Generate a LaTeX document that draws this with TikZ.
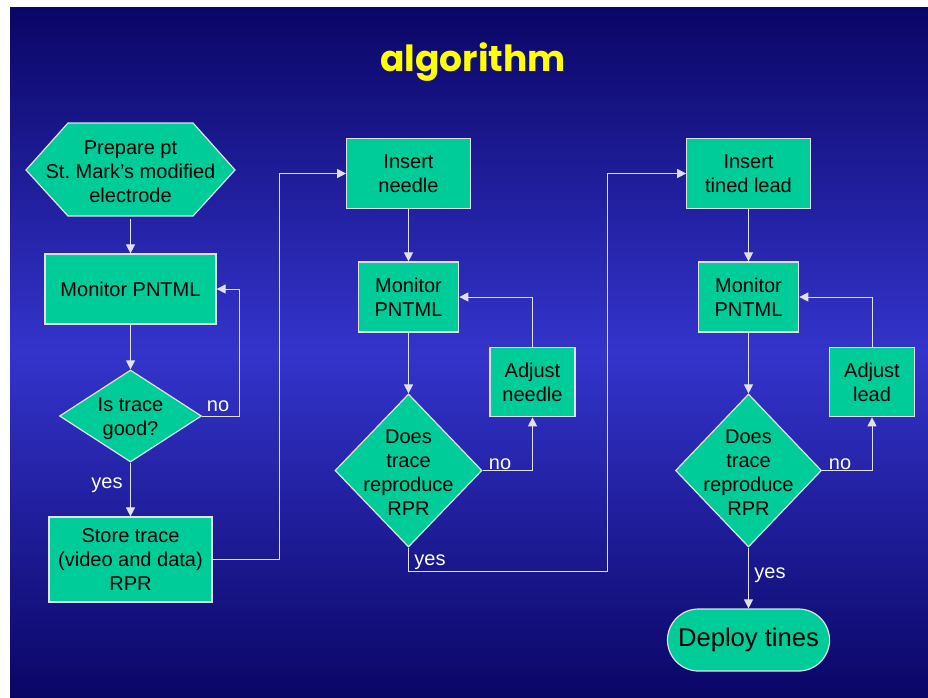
\documentclass[tikz,border=0pt]{standalone}
\usepackage{fontspec}
\setmainfont{Liberation Sans}
\newfontfamily\titlefont{Poppins}
\usetikzlibrary{arrows.meta,shapes.geometric}
\definecolor{boxfill}{RGB}{0,204,153}
\definecolor{bgdark}{RGB}{10,6,102}
\definecolor{bglight}{RGB}{52,52,204}
\definecolor{linec}{RGB}{225,225,235}
\definecolor{titley}{RGB}{255,255,0}
\begin{document}
\begin{tikzpicture}[x=1pt,y=-1pt,
  font=\fontsize{20}{24}\selectfont,
  box/.style={draw=linec, line width=1.2pt, fill=boxfill, text=black, align=center, inner sep=0pt},
  txt/.style={text=black, align=center, inner sep=0pt},
  lbl/.style={text=white, inner sep=0pt},
  arr/.style={draw=linec, line width=1pt, -{Triangle[length=9pt,width=9pt]}},
  ln/.style={draw=linec, line width=1pt}
]
\useasboundingbox (0,0) rectangle (928,697);
\fill[white] (0,0) rectangle (928,697);
\shade[top color=bgdark, bottom color=bgdark, middle color=bglight] (10,7) rectangle (928,697);

\node[text=titley, inner sep=0pt, font=\titlefont\bfseries\fontsize{36}{40}\selectfont] (title) at (473,62) {algorithm};

% left column
\fill[boxfill, draw=linec, line width=1.2pt] (26,170) -- (68,123) -- (193,123) -- (235,170) -- (193,216) -- (68,216) -- cycle;
\node[txt, minimum width=209, minimum height=93] (prep) at (130.5,172) {Prepare pt\\St.\ Mark’s modified\\electrode};
\node[box, minimum width=171, minimum height=70] (mon1) at (130.5,289) {Monitor PNTML};
\node[box, diamond, minimum width=142, minimum height=92] (good) at (130.5,416) {};
\node[txt] (goodt) at (130.5,419) {Is trace\\good?};
\node[box, minimum width=163, minimum height=85] (store) at (130.5,559.5) {Store trace\\(video and data)\\RPR};

% middle column
\node[box, minimum width=123.5, minimum height=70.5] (ins1) at (408.5,173.5) {Insert\\needle};
\node[box, minimum width=100.5, minimum height=70] (mon2) at (408.5,297) {Monitor\\PNTML};
\node[box, minimum width=85, minimum height=69.5] (adj1) at (532.5,382) {Adjust\\needle};
\node[box, diamond, minimum width=147, minimum height=153] (d2) at (408.5,470.5) {};
\node[txt] (d2t) at (408.5,473) {Does\\trace\\reproduce\\RPR};

% right column
\node[box, minimum width=123.5, minimum height=70.5] (ins2) at (748.5,173.5) {Insert\\tined lead};
\node[box, minimum width=100.5, minimum height=70] (mon3) at (748.5,297) {Monitor\\PNTML};
\node[box, minimum width=85.5, minimum height=69.5] (adj2) at (872,382) {Adjust\\lead};
\node[box, diamond, minimum width=146, minimum height=153] (d3) at (748.5,470.5) {};
\node[txt] (d3t) at (748.5,473) {Does\\trace\\reproduce\\RPR};
\node[box, rounded corners=31pt, minimum width=162, minimum height=62, font=\fontsize{25.6}{28}\selectfont] (deploy) at (748.5,640) {Deploy tines};

% labels
\node[lbl] (no1) at (218,406) {no};
\node[lbl] (yes1) at (107,485) {yes};
\node[lbl] (no2) at (500,464) {no};
\node[lbl] (yes2) at (430,562) {yes};
\node[lbl] (no3) at (840,464) {no};
\node[lbl] (yes3) at (770,575) {yes};

% bend points
\coordinate (k1) at (239,416);
\coordinate (k2) at (279,559.5);
\coordinate (k3) at (607,571);

% connectors
\draw[arr] (prep.south) -- (mon1.north);
\draw[arr] (mon1.south) -- (good.north);
\draw[arr] (good.east) -- (k1) |- (mon1.east);
\draw[arr] (good.south) -- (store.north);
\draw[arr] (store.east) -- (k2) |- (ins1.west);

\draw[arr] (ins1.south) -- (mon2.north);
\draw[arr] (mon2.south) -- (d2.north);
\draw[arr] (d2.east) -| (adj1.south);
\draw[arr] (adj1.north) |- (mon2.east);
\draw[arr] (d2.south) |- (k3) |- (ins2.west);

\draw[arr] (ins2.south) -- (mon3.north);
\draw[arr] (mon3.south) -- (d3.north);
\draw[arr] (d3.east) -| (adj2.south);
\draw[arr] (adj2.north) |- (mon3.east);
\draw[arr] (d3.south) -- (deploy.north);
\end{tikzpicture}
\end{document}
